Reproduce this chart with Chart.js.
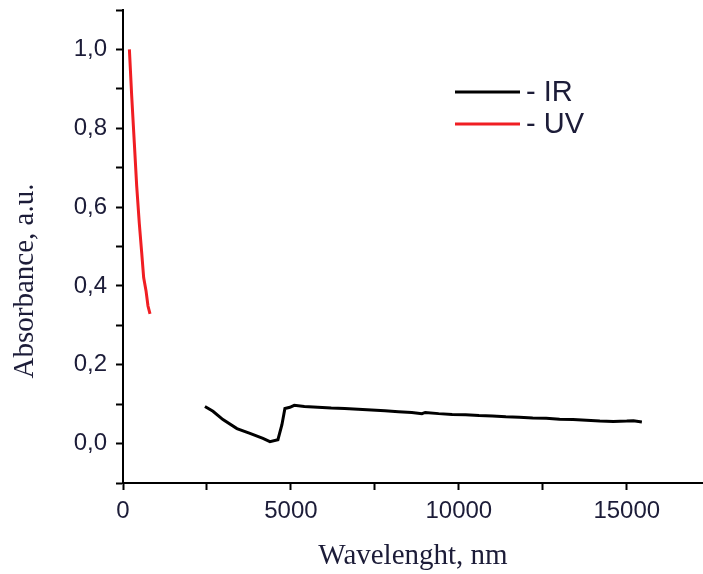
<!DOCTYPE html>
<html>
<head>
<meta charset="utf-8">
<script src="https://cdn.jsdelivr.net/npm/chart.js@4"></script>
<style>
  html, body { margin: 0; padding: 0; background: #fff; }
  #wrap { width: 703px; height: 574px; }
</style>
</head>
<body>
<div id="wrap"><canvas id="myChart" width="703" height="574"></canvas></div>
<script>
const ctx = document.getElementById('myChart').getContext('2d');

// UV branch (nm, absorbance)
const uvX = [190, 257, 337, 408, 485, 556, 615, 685, 744, 804];
const uvY = [1.0, 0.885, 0.763, 0.653, 0.559, 0.485, 0.421, 0.388, 0.349, 0.329];

// IR branch
const irX = [2440, 2679, 2976, 3393, 3780, 4167, 4375, 4613, 4732, 4821, 4970,
  5100, 5400, 5800, 6200, 6600, 7000, 7400, 7800, 8200, 8600, 8900, 9000, 9400,
  9800, 10200, 10600, 11000, 11400, 11800, 12200, 12600, 13000, 13400, 13800,
  14200, 14600, 15000, 15200, 15450];
const irY = [0.094, 0.082, 0.061, 0.038, 0.026, 0.013, 0.005, 0.010, 0.048, 0.089, 0.092,
  0.097, 0.094, 0.092, 0.090, 0.089, 0.087, 0.085, 0.083, 0.081, 0.079, 0.076, 0.079, 0.076,
  0.074, 0.073, 0.071, 0.070, 0.068, 0.067, 0.065, 0.064, 0.062, 0.061, 0.059,
  0.057, 0.056, 0.057, 0.058, 0.055];

const xTicks = [0, 5000, 10000, 15000];
const seriesLabels = ['- IR', '- UV'];
const seriesColors = ['#000000', '#f01e23'];
const yTitle = 'Absorbance, a.u.';

const toPoints = (xs, ys) => xs.map((x, i) => ({ x: x, y: ys[i] }));

const tickFont = { family: 'Liberation Sans', size: 24 };
const titleFont = { family: 'Liberation Serif', size: 29 };
const textColor = '#1c1c38';

// legend inside the plot + y title sitting a bit low, like the original
const extras = {
  id: 'extras',
  afterDraw(chart) {
    const c = chart.ctx;
    c.save();
    c.font = '29px "Liberation Sans"';
    c.textBaseline = 'middle';
    c.textAlign = 'left';
    const rows = [92, 124];
    seriesLabels.forEach((lab, i) => {
      c.strokeStyle = seriesColors[i];
      c.lineWidth = 3;
      c.beginPath();
      c.moveTo(455, rows[i]);
      c.lineTo(520, rows[i]);
      c.stroke();
      c.fillStyle = textColor;
      c.fillText(lab, 526, rows[i] + 1);
    });

    c.translate(25, 281);
    c.rotate(-Math.PI / 2);
    c.font = '29px "Liberation Serif"';
    c.textAlign = 'center';
    c.fillText(yTitle, 0, 0);
    c.restore();
  }
};

const data = {
  datasets: [
    {
      label: seriesLabels[0],
      data: toPoints(irX, irY),
      borderColor: seriesColors[0],
      borderWidth: 3,
      pointRadius: 0,
      tension: 0,
    },
    {
      label: seriesLabels[1],
      data: toPoints(uvX, uvY),
      borderColor: seriesColors[1],
      borderWidth: 3,
      pointRadius: 0,
      tension: 0,
    },
  ],
};

const config = {
  type: 'line',
  data: data,
  plugins: [extras],
  options: {
    responsive: false,
    animation: false,
    layout: { padding: { top: 10, right: 0, left: 0, bottom: 0 } },
    plugins: {
      legend: { display: false },
      tooltip: { enabled: false },
    },
    scales: {
      x: {
        type: 'linear',
        min: 0,
        max: 17270,
        afterFit: (s) => { s.height = 91; s.paddingLeft = 0; s.paddingRight = 0; },
        afterBuildTicks: (s) => {
          s.ticks = [];
          for (let v = 0; v <= 17270; v += 2500) s.ticks.push({ value: v });
        },
        border: { display: true, color: '#000', width: 2 },
        grid: { drawOnChartArea: false, color: '#000', tickLength: 7, tickWidth: 2 },
        ticks: {
          font: tickFont,
          color: textColor,
          padding: 7,
          maxRotation: 0,
          autoSkip: false,
          callback: (v) => xTicks.includes(v) ? String(v) : '',
        },
        title: {
          display: true,
          text: 'Wavelenght, nm',
          font: titleFont,
          color: textColor,
          padding: { top: 0, bottom: 0 },
        },
      },
      y: {
        min: -0.1,
        max: 1.1,
        afterFit: (s) => { s.width = 123; s.paddingTop = 0; s.paddingBottom = 0; },
        afterBuildTicks: (s) => {
          s.ticks = [];
          for (let k = -1; k <= 11; k++) s.ticks.push({ value: k / 10 });
        },
        border: { display: true, color: '#000', width: 2 },
        grid: { drawOnChartArea: false, color: '#000', tickLength: 7, tickWidth: 2 },
        ticks: {
          font: tickFont,
          color: textColor,
          padding: 9,
          autoSkip: false,
          callback: (v) => {
            const k = Math.round(v * 10);
            if (k < 0 || k > 10 || k % 2 !== 0) return '';
            return (k / 10).toFixed(1).replace('.', ',');
          },
        },
        title: { display: false },
      },
    },
  },
};

const myChart = new Chart(ctx, config);
</script>
</body>
</html>
